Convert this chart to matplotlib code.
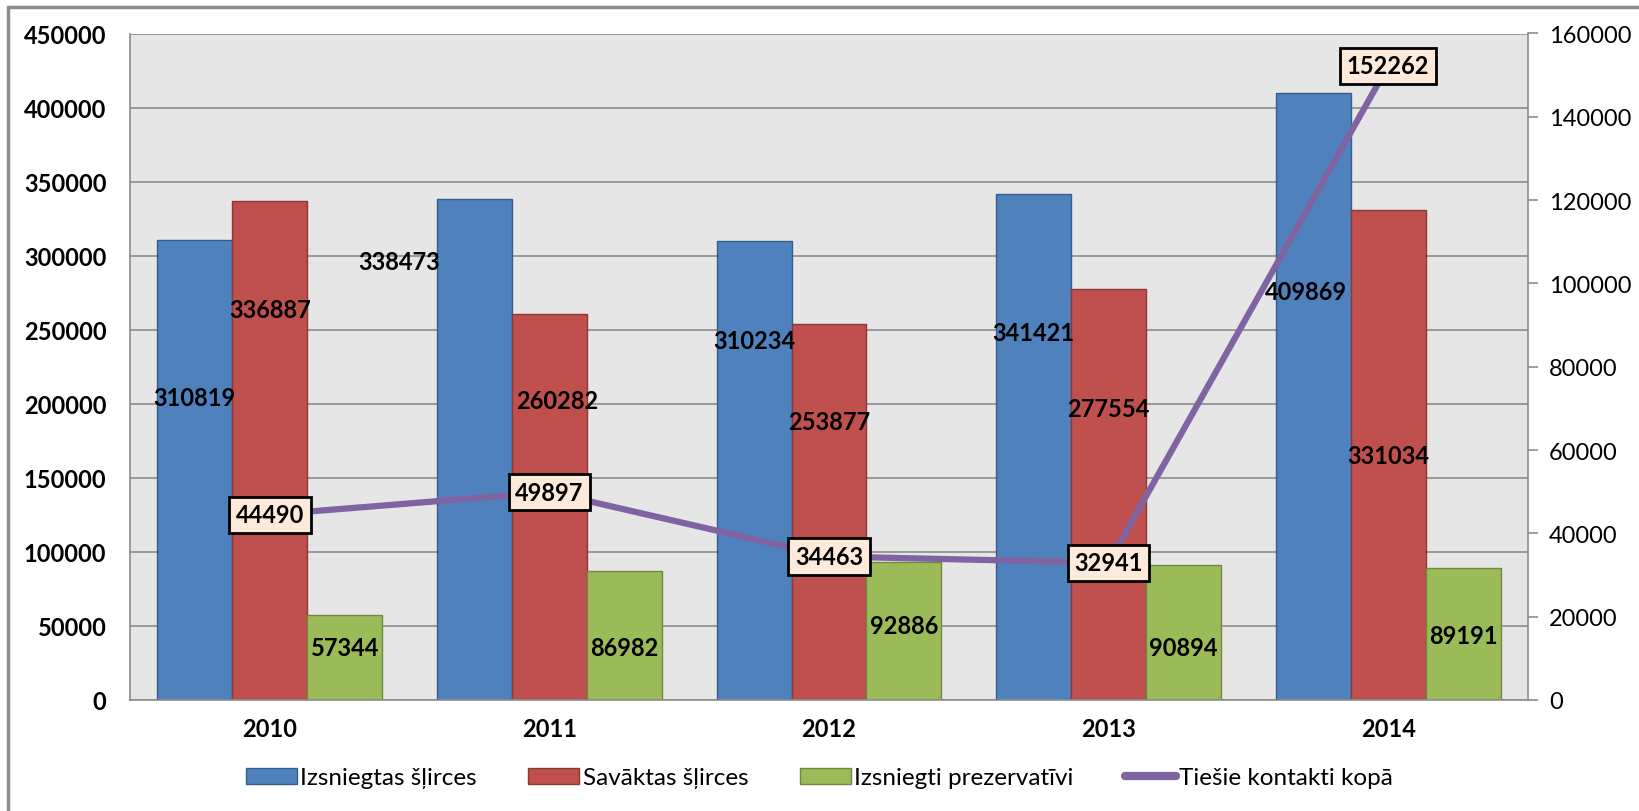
import numpy as np
import matplotlib
matplotlib.use("Agg")
import matplotlib.pyplot as plt
from matplotlib.patches import Rectangle
from matplotlib.lines import Line2D

plt.rcParams['font.family'] = ['Lato', 'DejaVu Sans']

years = ['2010', '2011', '2012', '2013', '2014']
issued_syringes = [310819, 338473, 310234, 341421, 409869]
collected_syringes = [336887, 260282, 253877, 277554, 331034]
condoms = [57344, 86982, 92886, 90894, 89191]
contacts = [44490, 49897, 34463, 32941, 152262]

series_names = ['Izsniegtas šļirces', 'Savāktas šļirces',
                'Izsniegti prezervatīvi', 'Tiešie kontakti kopā']

# where the data labels sit in the original (left-axis units), and x shifts in bar widths
label_y = [
    [204500, 296000, 242600, 248300, 275800],
    [263800, 202400, 188300, 196800, 165000],
    [35300, 35300, 50100, 35300, 43700],
]
label_dx = [
    [0, -1.0, 0, 0, -0.1],
    [0, 0.1, 0, 0, 0],
    [0, 0, 0, 0, 0],
]

colors = ['#4F81BD', '#C0504D', '#9BBB59']
edges = ['#385D8A', '#8C3836', '#71893F']
line_color = '#8064A2'

fig = plt.figure(figsize=(16.39, 8.12), dpi=100)
ax = fig.add_axes([130 / 1639, 111 / 812, 1398 / 1639, 666.5 / 812])
ax.set_facecolor('#E6E6E6')

x = np.arange(len(years))
w = 0.268
bar_series = [issued_syringes, collected_syringes, condoms]
for i, vals in enumerate(bar_series):
    off = (i - 1) * w
    ax.bar(x + off, vals, width=w, color=colors[i], edgecolor=edges[i],
           linewidth=1, zorder=2, label=series_names[i])
    for j, v in enumerate(vals):
        ax.text(x[j] + off + label_dx[i][j] * w, label_y[i][j], str(v),
                ha='center', va='center', fontsize=17, fontweight='bold',
                color='black', zorder=5)

ax.set_xlim(-0.5, len(years) - 0.5)
ax.set_ylim(0, 450000)
ax.set_yticks(np.arange(0, 450001, 50000))
ax.yaxis.grid(True, color='#8C8C8C', linewidth=1.2, zorder=0)
ax.set_axisbelow(True)
ax.set_xticks(x)
ax.set_xticklabels(years, fontsize=17, fontweight='bold')
ax.tick_params(axis='x', length=0, pad=12)
ax.tick_params(axis='y', length=0, pad=17, labelsize=17)
for lab in ax.get_yticklabels():
    lab.set_fontweight('bold')
for s in ['top', 'right']:
    ax.spines[s].set_visible(False)
for s in ['left', 'bottom']:
    ax.spines[s].set_color('#8C8C8C')
    ax.spines[s].set_linewidth(1.2)

ax2 = ax.twinx()
ax2.plot(x, contacts, color=line_color, linewidth=4.5, zorder=3,
         solid_capstyle='round')
for j, v in enumerate(contacts):
    ax2.text(x[j], v, str(v), ha='center', va='center', fontsize=17,
             fontweight='bold', color='black', zorder=6,
             bbox=dict(boxstyle='square,pad=0.28', fc='#FDEADA', ec='black', lw=2))
ax2.set_ylim(0, 160000)
ax2.set_yticks(np.arange(0, 160001, 20000))
ax2.tick_params(axis='y', length=7, color='#8C8C8C', width=1.2, labelsize=17, pad=8)
for s in ['top', 'left', 'bottom']:
    ax2.spines[s].set_visible(False)
ax2.spines['right'].set_color('#8C8C8C')
ax2.spines['right'].set_linewidth(1.2)

handles = [Rectangle((0, 0), 1, 1, fc=colors[i], ec=edges[i]) for i in range(3)]
handles.append(Line2D([0], [0], color=line_color, linewidth=6, solid_capstyle='round'))
fig.legend(handles, series_names, loc='center', bbox_to_anchor=(0.5, 1 - 779 / 812),
           ncol=4, frameon=False, fontsize=17.5, handlelength=2.1, handleheight=0.62,
           columnspacing=2.1, handletextpad=0.15)

# outer chart frame
fig.patches.append(Rectangle((8 / 1639, -0.05), 1.05, 1 - 8 / 812 + 0.05,
                             transform=fig.transFigure, fill=False,
                             ec='#8C8C8C', lw=2.5))

fig.savefig('out.png', dpi=100)
